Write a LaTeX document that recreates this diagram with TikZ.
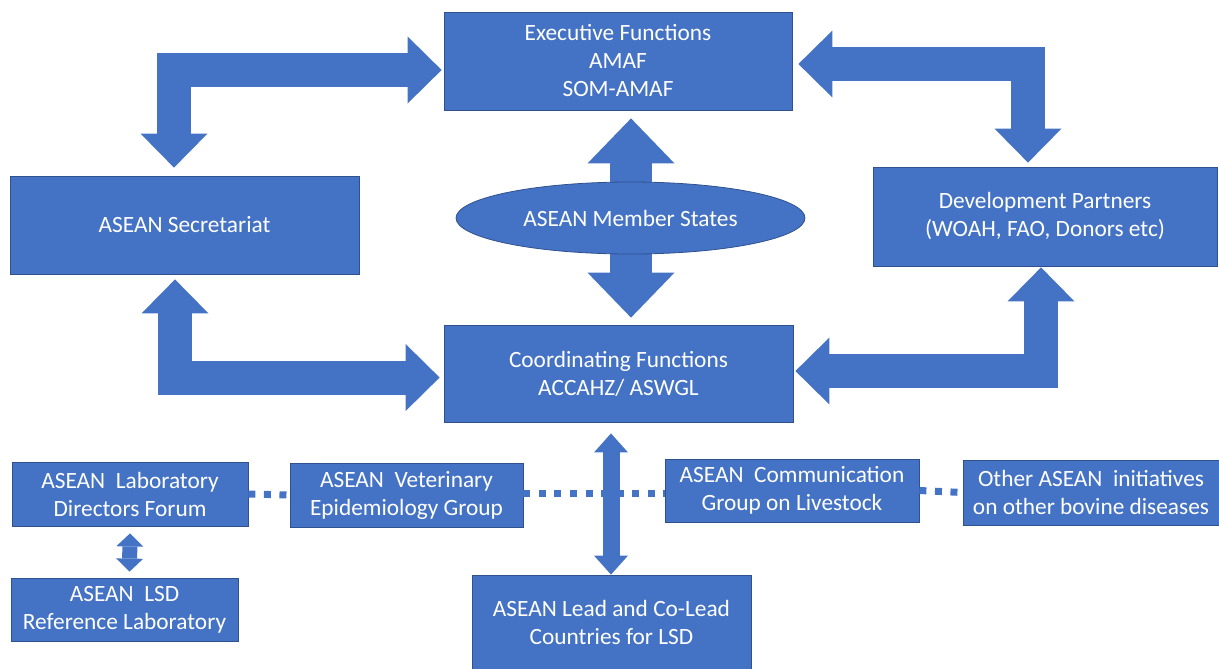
\documentclass[tikz,border=0pt]{standalone}
\usepackage{fontspec}
\setmainfont{Carlito}
\usepackage{xcolor}
\usepackage{tikz}
\usetikzlibrary{arrows.meta,calc,shapes.geometric}
\definecolor{azul}{HTML}{4472C4}
\definecolor{borde}{HTML}{2F528F}
\tikzset{
  caja/.style={rectangle,fill=azul,draw=borde,line width=0.6pt,text=white,align=center,inner sep=0pt},
  elipse/.style={ellipse,fill=azul,draw=borde,line width=0.6pt,text=white,inner sep=0pt},
  gorda/.style={draw=azul,line width=25.5pt,line join=miter,
    {Triangle[length=25.5pt,width=50.25pt,line width=0pt]}-{Triangle[length=25.5pt,width=50.25pt,line width=0pt]}},
  central/.style={draw=azul,line width=31.5pt,
    {Triangle[length=33.75pt,width=65.25pt,line width=0pt]}-{Triangle[length=33.75pt,width=65.25pt,line width=0pt]}},
  fina/.style={draw=azul,line width=12.75pt,
    {Triangle[length=14.25pt,width=25.5pt,line width=0pt]}-{Triangle[length=14.25pt,width=25.5pt,line width=0pt]}},
  mini/.style={draw=azul,line width=11.25pt,
    {Triangle[length=9.75pt,width=20.25pt,line width=0pt]}-{Triangle[length=9.75pt,width=20.25pt,line width=0pt]}},
  puntos/.style={draw=azul,line width=5.25pt,dash pattern=on 5.25pt off 6.4pt}
}

\begin{document}
\begin{tikzpicture}[x=0.75pt,y=-0.75pt,font=\fontsize{17.5}{21}\selectfont]
\path[use as bounding box,clip] (0,0) rectangle (1219,668);
% upper part
\node[caja,minimum width=261pt,minimum height=73.5pt] (exec) at (618,61)
  {Executive Functions\\AMAF\\SOM-AMAF};
\node[caja,minimum width=261.75pt,minimum height=73.5pt] (sec) at (184.5,225) {ASEAN Secretariat};
\node[caja,minimum width=258pt,minimum height=74.25pt] (dev) at (1045,216.5)
  {Development Partners\\(WOAH, FAO, Donors etc)};
\node[caja,minimum width=261.75pt,minimum height=72.75pt] (coord) at (618.5,373.5)
  {Coordinating Functions\\ACCAHZ/ ASWGL};
\draw[central] ($(exec.south)+(13,8)$) -- ($(coord.north)+(12.5,-7)$);
\node[elipse,minimum width=261.75pt,minimum height=54pt] (ams) at (630.5,218) {ASEAN Member States};
\draw[gorda] ($(exec.west)+(-2,9)$) -| ($(sec.north)+(-10.5,-8)$);
\draw[gorda] ($(exec.east)+(6,3)$) -| ($(dev.north)+(-17,-4)$);
\draw[gorda] ($(sec.south)+(-9.5,5)$) |- ($(coord.west)+(-4,4)$);
\draw[gorda] ($(dev.south)+(-4,1)$) |- ($(coord.east)+(2,-2.5)$);
% lower part
\node[caja,minimum width=177pt,minimum height=48pt] (lab) at (130,494)
  {ASEAN\ \ Laboratory\\Directors Forum};
\node[caja,minimum width=174.75pt,minimum height=48pt] (vet) at (406.5,495)
  {ASEAN\ \ Veterinary\\Epidemiology Group};
\node[caja,minimum width=190.5pt,minimum height=47.25pt] (comm) at (792,490.5)
  {ASEAN\ \ Communication\\Group on Livestock};
\node[caja,minimum width=192pt,minimum height=48.75pt] (other) at (1091,492.5)
  {Other ASEAN\ \ initiatives\\on other bovine diseases};
\node[caja,minimum width=170.25pt,minimum height=47.25pt] (lsd) at (124.5,609.5)
  {ASEAN\ \ LSD\\Reference Laboratory};
\node[caja,minimum width=209.25pt,minimum height=71.25pt] (lead) at (611.5,622.5)
  {ASEAN Lead and Co-Lead\\Countries for LSD};
\draw[puntos] (lab.east) -- (vet.west);
\draw[puntos] ($(vet.east)+(0,-2)$) -- ($(vet.east -| comm.west)+(0,-2)$);
\draw[puntos] (comm.east) -- (other.west);
\draw[fina] ($(coord.south)+(-7.5,11)$) -- ($(lead.north)+(-0.5,0)$);
\draw[mini] ($(lab.south)+(0,7)$) -- ($(lsd.north)+(5,-6)$);
\end{tikzpicture}
\end{document}
